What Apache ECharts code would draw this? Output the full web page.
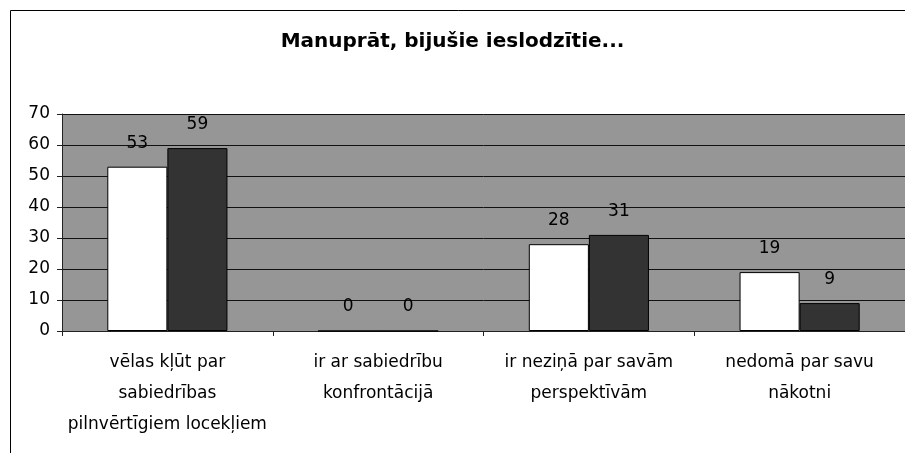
<!DOCTYPE html>
<html>
<head>
<meta charset="utf-8">
<script src="https://cdn.jsdelivr.net/npm/echarts@6/dist/echarts.min.js"></script>
<style>
  html, body { margin: 0; padding: 0; background: #fff; }
  #chart { width: 905px; height: 453px; }
</style>
</head>
<body>
<div id="chart"></div>
<script>
// data
var categories = [
  'vēlas kļūt par\nsabiedrības\npilnvērtīgiem locekļiem',
  'ir ar sabiedrību\nkonfrontācijā',
  'ir neziņā par savām\nperspektīvām',
  'nedomā par savu\nnākotni'
];
var seriesA = [53, 0, 28, 19];
var seriesB = [59, 0, 31, 9];
var yTicks = { min: 0, max: 70, step: 10 };

// the source text is wide, DejaVu fits its widths better than Arial
var font = "'DejaVu Sans', 'Liberation Sans', sans-serif";

var chart = echarts.init(document.getElementById('chart'));

var barLabel = {
  show: true,
  position: 'top',
  distance: 15,
  color: '#000',
  fontFamily: font,
  fontSize: 17
};

var option = {
  animation: false,
  backgroundColor: '#fff',
  title: {
    text: 'Manuprāt, bijušie ieslodzītie...',
    left: 'center',
    top: 27,
    textStyle: {
      fontFamily: font,
      fontWeight: 'bold',
      fontSize: 20,
      color: '#000'
    }
  },
  graphic: [{
    // outer chart frame (cut off at right and bottom)
    type: 'rect',
    z: -1,
    shape: { x: 10.5, y: 10.5, width: 1000, height: 1000 },
    style: { fill: 'none', stroke: '#000', lineWidth: 1 }
  }],
  grid: {
    left: 62,
    right: 0,
    top: 114,
    bottom: 122,
    show: true,
    backgroundColor: '#969696',
    borderWidth: 0,
    outerBoundsMode: 'none'
  },
  xAxis: {
    type: 'category',
    data: categories,
    axisLine: { show: true, lineStyle: { color: '#222', width: 1 } },
    axisTick: { show: true, length: 5, lineStyle: { color: '#222' } },
    axisLabel: {
      interval: 0,
      margin: 16,
      color: '#000',
      fontFamily: font,
      fontSize: 17,
      lineHeight: 31
    },
    splitLine: { show: false }
  },
  yAxis: {
    type: 'value',
    min: yTicks.min,
    max: yTicks.max,
    interval: yTicks.step,
    axisLine: { show: true, lineStyle: { color: '#222', width: 1 } },
    axisTick: { show: true, length: 5, lineStyle: { color: '#222' } },
    axisLabel: {
      margin: 12,
      color: '#000',
      fontFamily: font,
      fontSize: 17
    },
    splitLine: { show: true, lineStyle: { color: '#111', width: 1 } }
  },
  series: [{
    name: 'A',
    type: 'bar',
    barGap: '0%',
    barCategoryGap: '43%',
    itemStyle: { color: '#ffffff', borderColor: '#000', borderWidth: 1 },
    label: barLabel,
    data: seriesA
  }, {
    name: 'B',
    type: 'bar',
    barGap: '0%',
    barCategoryGap: '43%',
    itemStyle: { color: '#333333', borderColor: '#000', borderWidth: 1 },
    label: barLabel,
    data: seriesB
  }]
};

chart.setOption(option);
</script>
</body>
</html>
